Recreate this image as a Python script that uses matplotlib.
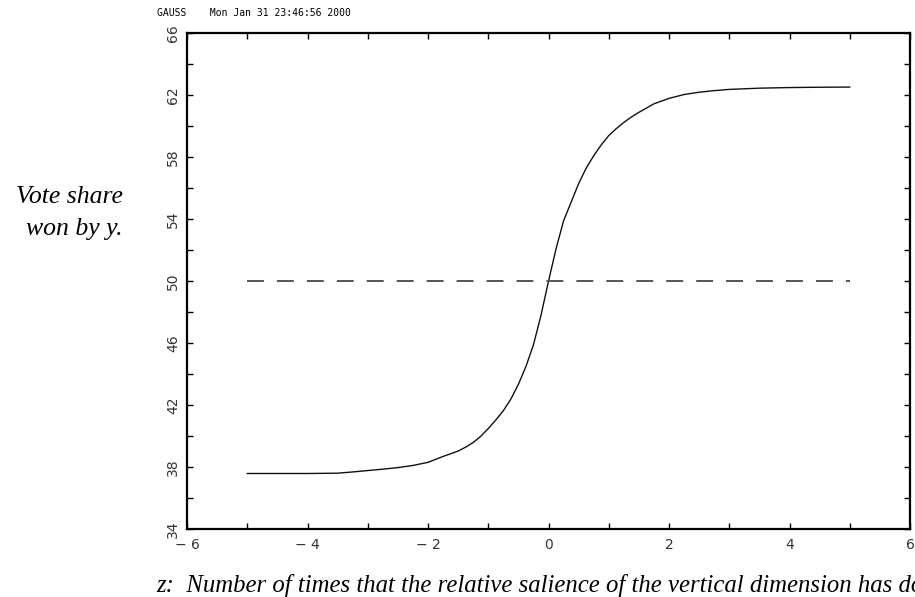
import matplotlib
matplotlib.use("Agg")
import matplotlib.pyplot as plt
from matplotlib.ticker import MultipleLocator

# ---- data ----
z_values = [-5.0, -4.5, -4.0, -3.5, -3.25, -3.0, -2.75, -2.5, -2.25, -2.0, -1.75,
            -1.5, -1.375, -1.25, -1.125, -1.0, -0.875, -0.75, -0.625, -0.5, -0.375,
            -0.25, -0.125, 0.0, 0.125, 0.25, 0.375, 0.5, 0.625, 0.75, 0.875, 1.0,
            1.125, 1.25, 1.375, 1.5, 1.75, 2.0, 2.25, 2.5, 2.75, 3.0, 3.5, 4.0,
            4.5, 5.0]
vote_share = [37.6, 37.6, 37.6, 37.62, 37.7, 37.79, 37.88, 37.98, 38.12, 38.32, 38.7,
              39.05, 39.3, 39.6, 40.0, 40.5, 41.05, 41.65, 42.4, 43.35, 44.5,
              45.9, 47.8, 50.0, 52.1, 53.9, 55.1, 56.3, 57.3, 58.1, 58.8, 59.4,
              59.85, 60.25, 60.6, 60.9, 61.45, 61.8, 62.05, 62.2, 62.3, 62.38, 62.46, 62.5,
              62.52, 62.53]
ref_x = [-5.0, 5.0]
ref_y = [50.0, 50.0]

x_ticks = [-6, -4, -2, 0, 2, 4, 6]
y_ticks = [34, 38, 42, 46, 50, 54, 58, 62, 66]

W, H = 915, 597
fig = plt.figure(figsize=(W / 100, H / 100), dpi=100)
left, right, top, bottom = 187.0, 910.0, 33.3, 529.3
ax = fig.add_axes([left / W, 1 - bottom / H, (right - left) / W, (bottom - top) / H])

ax.plot(z_values, vote_share, color="#111111", lw=1.0)
ax.plot(ref_x, ref_y, color="#555555", lw=1.4, dashes=(8.7, 6.7))

ax.set_xlim(-6, 6)
ax.set_ylim(34, 66)
ax.set_xticks(x_ticks)
ax.set_yticks(y_ticks)
ax.xaxis.set_minor_locator(MultipleLocator(1))
ax.yaxis.set_minor_locator(MultipleLocator(2))
ax.set_xticklabels([str(v).replace("-", "\u2212 ") for v in x_ticks])
ax.set_yticklabels([str(v) for v in y_ticks], rotation=90, va="center")

for s in ax.spines.values():
    s.set_linewidth(1.6)
    s.set_color("black")

ax.tick_params(which="both", direction="in", top=True, right=True,
               labelsize=10, labelcolor="#333333", width=1.0)
ax.tick_params(which="major", length=4.5)
ax.tick_params(which="minor", length=4.0)
ax.tick_params(axis="x", pad=6)
ax.tick_params(axis="y", pad=5)

fig.text(157 / W, 1 - 13 / H, "GAUSS    Mon Jan 31 23:46:56 2000",
         family="DejaVu Sans Mono", fontsize=7, va="center", ha="left")

fig.text(123 / W, 1 - 203 / H, "Vote share", family="Liberation Serif",
         style="italic", fontsize=18.5, ha="right", va="baseline")
fig.text(123 / W, 1 - 235 / H, "won by y.", family="Liberation Serif",
         style="italic", fontsize=18.5, ha="right", va="baseline")

fig.text(156 / W, 1 - 592 / H,
         "z:  Number of times that the relative salience of the vertical dimension has doubled",
         family="Liberation Serif", style="italic", fontsize=17.8, ha="left", va="baseline")

fig.savefig("out.png", dpi=100)
